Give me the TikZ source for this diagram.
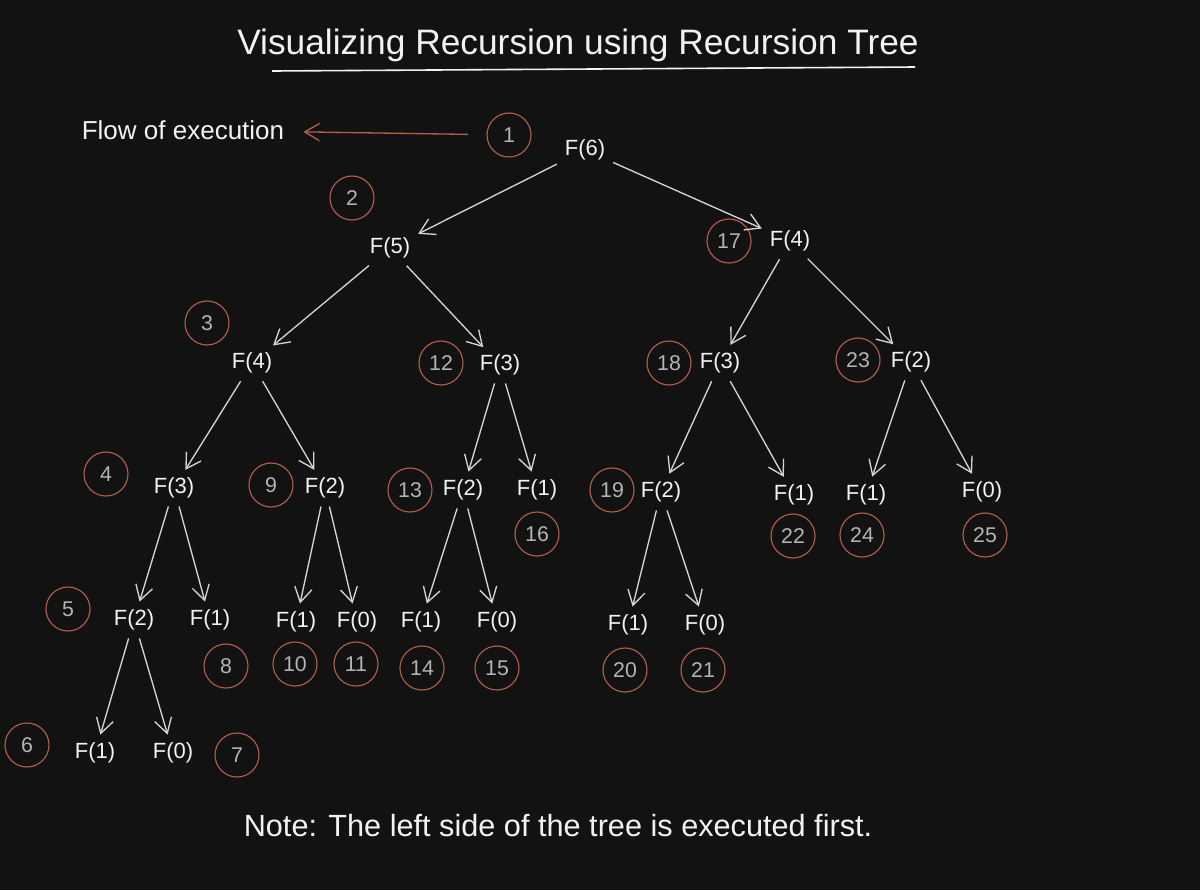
\documentclass[tikz,border=0pt]{standalone}
\usepackage{fontspec}
\setmainfont{Liberation Sans}
\usetikzlibrary{arrows.meta}
\definecolor{bg}{HTML}{121212}
\definecolor{ring}{HTML}{B05E4E}
\definecolor{numc}{HTML}{B4B4B4}
\definecolor{txt}{HTML}{F2F2F2}
\definecolor{edgec}{HTML}{D4D4D4}
\begin{document}
\begin{tikzpicture}[x=0.75pt,y=-0.75pt,
  fn/.style={text=txt,font=\fontsize{16.5}{19}\selectfont,inner sep=4pt},
  num/.style={draw=ring,line width=0.85pt,ringshape,text=numc,font=\fontsize{16}{19}\selectfont},
  ringshape/.style={circle,minimum size=33pt,inner sep=0pt},
  callarrow/.style={draw=edgec,line width=1pt,-{Straight Barb[length=11pt,width=13pt,line width=1pt]},shorten <=2pt,shorten >=2pt},
  hand/.style={text=txt}]
\fill[bg] (0,0) rectangle (1200,890);
\useasboundingbox (0,0) rectangle (1200,890);

% title and notes
\node[hand,font=\fontsize{26.5}{31}\selectfont] (title) at (578,45) {Visualizing Recursion using Recursion Tree};
\coordinate (ulA) at (272,71);
\coordinate (ulB) at (915,67);
\draw[txt,line width=1.2pt] (ulA) -- (ulB);
\node[hand,font=\fontsize{19.5}{23}\selectfont] (flow) at (183,130) {Flow of execution};
\node[hand,font=\fontsize{23}{27}\selectfont] (note) at (558,826) {Note: The left side of the tree is executed first.};

% function calls
\node[fn] (f6) at (585,150) {F(6)};
\node[fn] (f5) at (390,248) {F(5)};
\node[fn] (f4r) at (790,241) {F(4)};
\node[fn] (f4l) at (252,363) {F(4)};
\node[fn] (f3a) at (500,365) {F(3)};
\node[fn] (f3b) at (720,363) {F(3)};
\node[fn] (f2a) at (911,362) {F(2)};
\node[fn] (f3c) at (174,488) {F(3)};
\node[fn] (f2b) at (325,488) {F(2)};
\node[fn] (f2c) at (463,490) {F(2)};
\node[fn] (f1a) at (537,490) {F(1)};
\node[fn] (f2d) at (661,492) {F(2)};
\node[fn] (f1b) at (794,495) {F(1)};
\node[fn] (f1c) at (866,495) {F(1)};
\node[fn] (f0a) at (982,492) {F(0)};
\node[fn] (f2e) at (134,620) {F(2)};
\node[fn] (f1d) at (210,620) {F(1)};
\node[fn] (f1e) at (296,622) {F(1)};
\node[fn] (f0b) at (357,622) {F(0)};
\node[fn] (f1f) at (421,622) {F(1)};
\node[fn] (f0c) at (497,622) {F(0)};
\node[fn] (f1g) at (628,625) {F(1)};
\node[fn] (f0d) at (705,625) {F(0)};
\node[fn] (f1h) at (95,753) {F(1)};
\node[fn] (f0e) at (173,753) {F(0)};

% execution order
\node[num] (c1) at (509,135) {1};
\node[num] (c2) at (352,198) {2};
\node[num] (c3) at (207,323) {3};
\node[num] (c4) at (106,474) {4};
\node[num] (c5) at (68,609) {5};
\node[num] (c6) at (27,745) {6};
\node[num] (c7) at (237,755) {7};
\node[num] (c8) at (226,666) {8};
\node[num] (c9) at (271,485) {9};
\node[num] (c10) at (295,664) {10};
\node[num] (c11) at (356,664) {11};
\node[num] (c12) at (441,363) {12};
\node[num] (c13) at (410,490) {13};
\node[num] (c14) at (422,668) {14};
\node[num] (c15) at (497,668) {15};
\node[num] (c16) at (537,534) {16};
\node[num] (c17) at (729,241) {17};
\node[num] (c18) at (669,363) {18};
\node[num] (c19) at (612,490) {19};
\node[num] (c20) at (625,670) {20};
\node[num] (c21) at (703,670) {21};
\node[num] (c22) at (793,536) {22};
\node[num] (c23) at (858,360) {23};
\node[num] (c24) at (862,535) {24};
\node[num] (c25) at (985,535) {25};

% flow arrow
\draw[draw=ring,line width=1pt,-{Straight Barb[length=11pt,width=13pt,line width=1pt]},shorten <=14pt,shorten >=11pt] (c1) -- (flow);

% call arrows
\draw[callarrow] (f6) -- (f5);
\draw[callarrow] (f6) -- (f4r);
\draw[callarrow] (f5) -- (f4l);
\draw[callarrow] (f5) -- (f3a);
\draw[callarrow] (f4r) -- (f3b);
\draw[callarrow] (f4r) -- (f2a);
\draw[callarrow] (f4l) -- (f3c);
\draw[callarrow] (f4l) -- (f2b);
\draw[callarrow] (f3a) -- (f2c);
\draw[callarrow] (f3a) -- (f1a);
\draw[callarrow] (f3b) -- (f2d);
\draw[callarrow] (f3b) -- (f1b);
\draw[callarrow] (f2a) -- (f1c);
\draw[callarrow] (f2a) -- (f0a);
\draw[callarrow] (f3c) -- (f2e);
\draw[callarrow] (f3c) -- (f1d);
\draw[callarrow] (f2b) -- (f1e);
\draw[callarrow] (f2b) -- (f0b);
\draw[callarrow] (f2c) -- (f1f);
\draw[callarrow] (f2c) -- (f0c);
\draw[callarrow] (f2d) -- (f1g);
\draw[callarrow] (f2d) -- (f0d);
\draw[callarrow] (f2e) -- (f1h);
\draw[callarrow] (f2e) -- (f0e);
\end{tikzpicture}
\end{document}
